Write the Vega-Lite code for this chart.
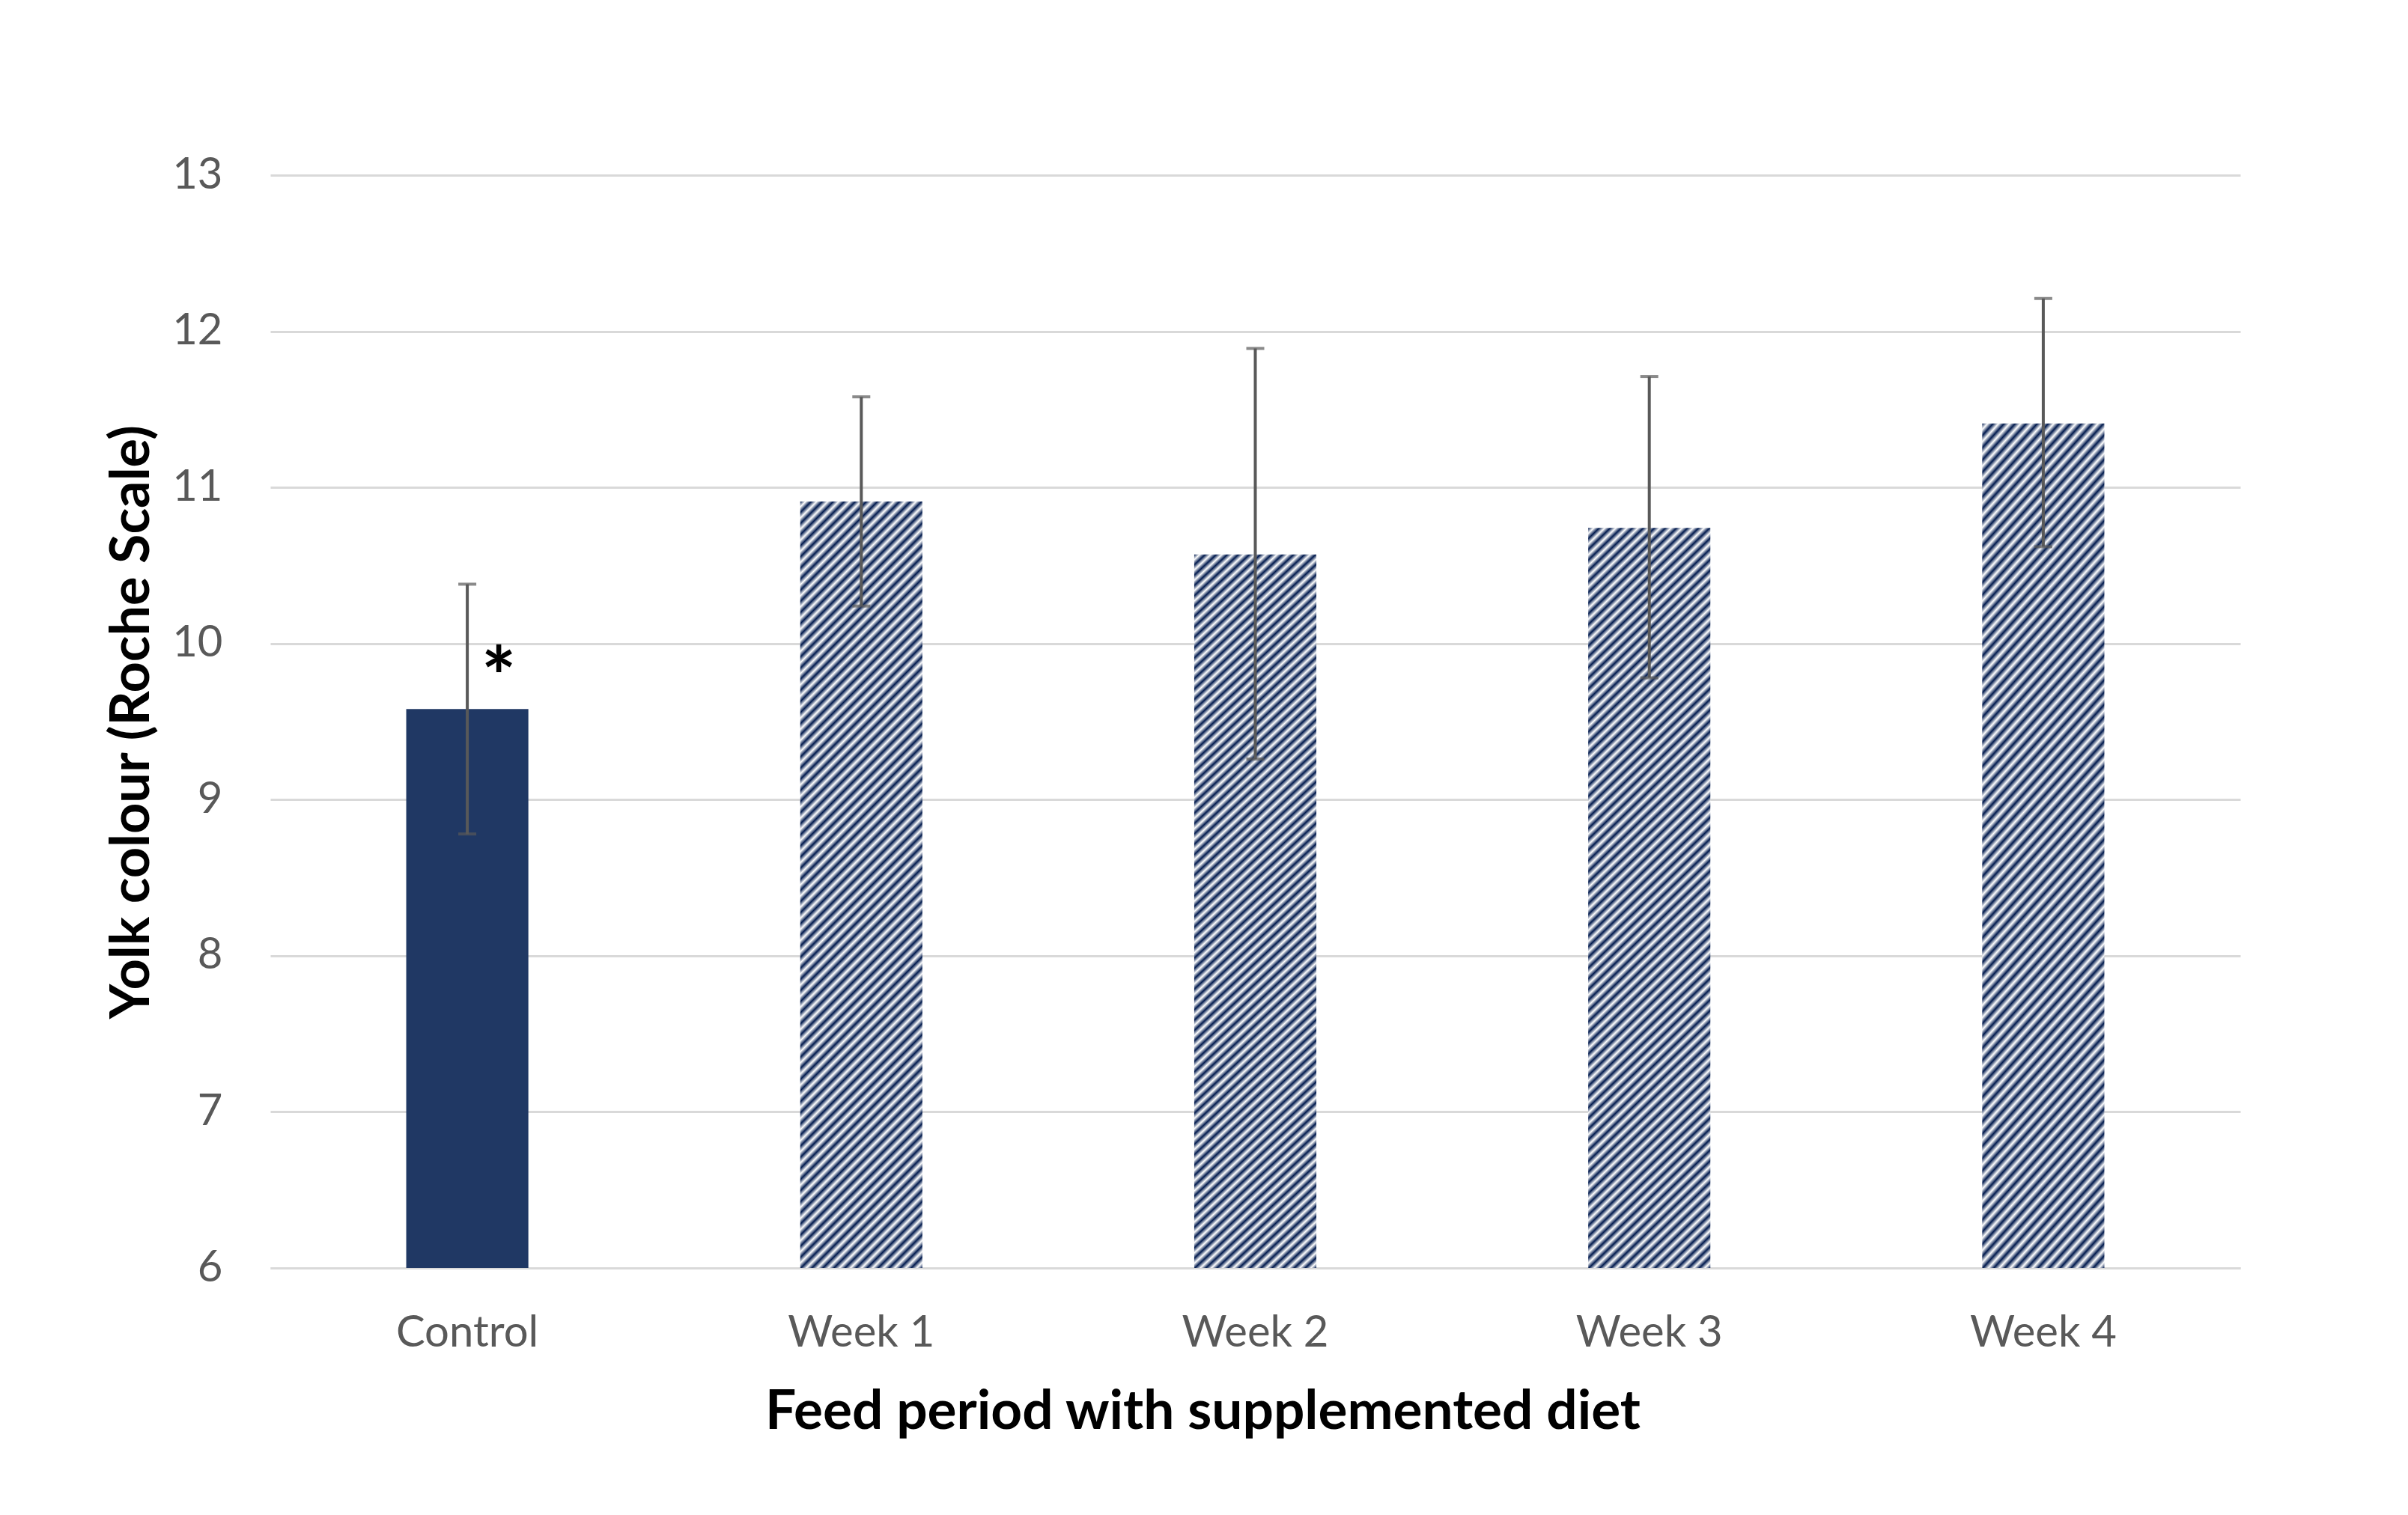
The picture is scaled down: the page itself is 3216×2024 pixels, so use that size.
{
  "$schema": "https://vega.github.io/schema/vega-lite/v6.json",
  "width": 2631,
  "height": 1460,
  "autosize": {"type": "none"},
  "padding": {"left": 361, "top": 234, "right": 224, "bottom": 330},
  "background": "white",
  "config": {"view": {"stroke": null}, "font": "Lato"},
  "data": {
    "values": [
      {"group": "Control", "mean": 9.58, "lo": 8.78, "hi": 10.38, "sig": "*"},
      {"group": "Week 1", "mean": 10.91, "lo": 10.24, "hi": 11.58, "sig": ""},
      {"group": "Week 2", "mean": 10.57, "lo": 9.26, "hi": 11.89, "sig": ""},
      {"group": "Week 3", "mean": 10.74, "lo": 9.78, "hi": 11.71, "sig": ""},
      {"group": "Week 4", "mean": 11.41, "lo": 10.62, "hi": 12.21, "sig": ""}
    ]
  },
  "encoding": {
    "x": {
      "field": "group",
      "type": "nominal",
      "sort": null,
      "scale": {"paddingInner": 0.69, "paddingOuter": 0.345},
      "title": "Feed period with supplemented diet",
      "axis": {
        "labelAngle": 0,
        "labelLimit": 0,
        "labelFont": "Lato",
        "labelFontSize": 58,
        "labelColor": "#595959",
        "labelPadding": 58,
        "ticks": false,
        "domainColor": "#d9d9d9",
        "domainWidth": 3,
        "titleFont": "Lato",
        "titleFontSize": 73,
        "titleFontWeight": "bold",
        "titleColor": "#000000",
        "titlePadding": 40,
        "titleX": 1245
      }
    }
  },
  "layer": [
    {
      "transform": [{"filter": "datum.group === 'Control'"}],
      "mark": {"type": "bar", "color": "#203864"},
      "encoding": {
        "y": {
          "field": "mean",
          "type": "quantitative",
          "scale": {"domain": [6, 13], "zero": false, "nice": false},
          "title": "Yolk colour (Roche Scale)",
          "axis": {
            "values": [6, 7, 8, 9, 10, 11, 12, 13],
            "format": "d",
            "domain": false,
            "ticks": false,
            "labelFont": "Lato",
            "labelFontSize": 58,
            "labelColor": "#595959",
            "labelPadding": 64,
            "gridColor": "#d9d9d9",
            "gridWidth": 3,
            "titleFont": "Lato",
            "titleFontSize": 72,
            "titleFontWeight": "bold",
            "titleColor": "#000000",
            "titlePadding": 16
          }
        },
        "y2": {"datum": 6}
      }
    },
    {
      "transform": [{"filter": "datum.group !== 'Control'"}],
      "mark": {
        "type": "bar",
        "color": {
          "gradient": "linear",
          "x1": 0, "y1": 0, "x2": 0.1815, "y2": 1.1313,
          "stops": [
            {"offset": 0, "color": "#00194d"}, {"offset": 0.00625, "color": "#ffffff"}, {"offset": 0.0125, "color": "#00194d"}, {"offset": 0.01875, "color": "#ffffff"}, {"offset": 0.025, "color": "#00194d"}, {"offset": 0.03125, "color": "#ffffff"}, {"offset": 0.0375, "color": "#00194d"}, {"offset": 0.04375, "color": "#ffffff"},
            {"offset": 0.05, "color": "#00194d"}, {"offset": 0.05625, "color": "#ffffff"}, {"offset": 0.0625, "color": "#00194d"}, {"offset": 0.06875, "color": "#ffffff"}, {"offset": 0.075, "color": "#00194d"}, {"offset": 0.08125, "color": "#ffffff"}, {"offset": 0.0875, "color": "#00194d"}, {"offset": 0.09375, "color": "#ffffff"},
            {"offset": 0.1, "color": "#00194d"}, {"offset": 0.10625, "color": "#ffffff"}, {"offset": 0.1125, "color": "#00194d"}, {"offset": 0.11875, "color": "#ffffff"}, {"offset": 0.125, "color": "#00194d"}, {"offset": 0.13125, "color": "#ffffff"}, {"offset": 0.1375, "color": "#00194d"}, {"offset": 0.14375, "color": "#ffffff"},
            {"offset": 0.15, "color": "#00194d"}, {"offset": 0.15625, "color": "#ffffff"}, {"offset": 0.1625, "color": "#00194d"}, {"offset": 0.16875, "color": "#ffffff"}, {"offset": 0.175, "color": "#00194d"}, {"offset": 0.18125, "color": "#ffffff"}, {"offset": 0.1875, "color": "#00194d"}, {"offset": 0.19375, "color": "#ffffff"},
            {"offset": 0.2, "color": "#00194d"}, {"offset": 0.20625, "color": "#ffffff"}, {"offset": 0.2125, "color": "#00194d"}, {"offset": 0.21875, "color": "#ffffff"}, {"offset": 0.225, "color": "#00194d"}, {"offset": 0.23125, "color": "#ffffff"}, {"offset": 0.2375, "color": "#00194d"}, {"offset": 0.24375, "color": "#ffffff"},
            {"offset": 0.25, "color": "#00194d"}, {"offset": 0.25625, "color": "#ffffff"}, {"offset": 0.2625, "color": "#00194d"}, {"offset": 0.26875, "color": "#ffffff"}, {"offset": 0.275, "color": "#00194d"}, {"offset": 0.28125, "color": "#ffffff"}, {"offset": 0.2875, "color": "#00194d"}, {"offset": 0.29375, "color": "#ffffff"},
            {"offset": 0.3, "color": "#00194d"}, {"offset": 0.30625, "color": "#ffffff"}, {"offset": 0.3125, "color": "#00194d"}, {"offset": 0.31875, "color": "#ffffff"}, {"offset": 0.325, "color": "#00194d"}, {"offset": 0.33125, "color": "#ffffff"}, {"offset": 0.3375, "color": "#00194d"}, {"offset": 0.34375, "color": "#ffffff"},
            {"offset": 0.35, "color": "#00194d"}, {"offset": 0.35625, "color": "#ffffff"}, {"offset": 0.3625, "color": "#00194d"}, {"offset": 0.36875, "color": "#ffffff"}, {"offset": 0.375, "color": "#00194d"}, {"offset": 0.38125, "color": "#ffffff"}, {"offset": 0.3875, "color": "#00194d"}, {"offset": 0.39375, "color": "#ffffff"},
            {"offset": 0.4, "color": "#00194d"}, {"offset": 0.40625, "color": "#ffffff"}, {"offset": 0.4125, "color": "#00194d"}, {"offset": 0.41875, "color": "#ffffff"}, {"offset": 0.425, "color": "#00194d"}, {"offset": 0.43125, "color": "#ffffff"}, {"offset": 0.4375, "color": "#00194d"}, {"offset": 0.44375, "color": "#ffffff"},
            {"offset": 0.45, "color": "#00194d"}, {"offset": 0.45625, "color": "#ffffff"}, {"offset": 0.4625, "color": "#00194d"}, {"offset": 0.46875, "color": "#ffffff"}, {"offset": 0.475, "color": "#00194d"}, {"offset": 0.48125, "color": "#ffffff"}, {"offset": 0.4875, "color": "#00194d"}, {"offset": 0.49375, "color": "#ffffff"},
            {"offset": 0.5, "color": "#00194d"}, {"offset": 0.50625, "color": "#ffffff"}, {"offset": 0.5125, "color": "#00194d"}, {"offset": 0.51875, "color": "#ffffff"}, {"offset": 0.525, "color": "#00194d"}, {"offset": 0.53125, "color": "#ffffff"}, {"offset": 0.5375, "color": "#00194d"}, {"offset": 0.54375, "color": "#ffffff"},
            {"offset": 0.55, "color": "#00194d"}, {"offset": 0.55625, "color": "#ffffff"}, {"offset": 0.5625, "color": "#00194d"}, {"offset": 0.56875, "color": "#ffffff"}, {"offset": 0.575, "color": "#00194d"}, {"offset": 0.58125, "color": "#ffffff"}, {"offset": 0.5875, "color": "#00194d"}, {"offset": 0.59375, "color": "#ffffff"},
            {"offset": 0.6, "color": "#00194d"}, {"offset": 0.60625, "color": "#ffffff"}, {"offset": 0.6125, "color": "#00194d"}, {"offset": 0.61875, "color": "#ffffff"}, {"offset": 0.625, "color": "#00194d"}, {"offset": 0.63125, "color": "#ffffff"}, {"offset": 0.6375, "color": "#00194d"}, {"offset": 0.64375, "color": "#ffffff"},
            {"offset": 0.65, "color": "#00194d"}, {"offset": 0.65625, "color": "#ffffff"}, {"offset": 0.6625, "color": "#00194d"}, {"offset": 0.66875, "color": "#ffffff"}, {"offset": 0.675, "color": "#00194d"}, {"offset": 0.68125, "color": "#ffffff"}, {"offset": 0.6875, "color": "#00194d"}, {"offset": 0.69375, "color": "#ffffff"},
            {"offset": 0.7, "color": "#00194d"}, {"offset": 0.70625, "color": "#ffffff"}, {"offset": 0.7125, "color": "#00194d"}, {"offset": 0.71875, "color": "#ffffff"}, {"offset": 0.725, "color": "#00194d"}, {"offset": 0.73125, "color": "#ffffff"}, {"offset": 0.7375, "color": "#00194d"}, {"offset": 0.74375, "color": "#ffffff"},
            {"offset": 0.75, "color": "#00194d"}, {"offset": 0.75625, "color": "#ffffff"}, {"offset": 0.7625, "color": "#00194d"}, {"offset": 0.76875, "color": "#ffffff"}, {"offset": 0.775, "color": "#00194d"}, {"offset": 0.78125, "color": "#ffffff"}, {"offset": 0.7875, "color": "#00194d"}, {"offset": 0.79375, "color": "#ffffff"},
            {"offset": 0.8, "color": "#00194d"}, {"offset": 0.80625, "color": "#ffffff"}, {"offset": 0.8125, "color": "#00194d"}, {"offset": 0.81875, "color": "#ffffff"}, {"offset": 0.825, "color": "#00194d"}, {"offset": 0.83125, "color": "#ffffff"}, {"offset": 0.8375, "color": "#00194d"}, {"offset": 0.84375, "color": "#ffffff"},
            {"offset": 0.85, "color": "#00194d"}, {"offset": 0.85625, "color": "#ffffff"}, {"offset": 0.8625, "color": "#00194d"}, {"offset": 0.86875, "color": "#ffffff"}, {"offset": 0.875, "color": "#00194d"}, {"offset": 0.88125, "color": "#ffffff"}, {"offset": 0.8875, "color": "#00194d"}, {"offset": 0.89375, "color": "#ffffff"},
            {"offset": 0.9, "color": "#00194d"}, {"offset": 0.90625, "color": "#ffffff"}, {"offset": 0.9125, "color": "#00194d"}, {"offset": 0.91875, "color": "#ffffff"}, {"offset": 0.925, "color": "#00194d"}, {"offset": 0.93125, "color": "#ffffff"}, {"offset": 0.9375, "color": "#00194d"}, {"offset": 0.94375, "color": "#ffffff"},
            {"offset": 0.95, "color": "#00194d"}, {"offset": 0.95625, "color": "#ffffff"}, {"offset": 0.9625, "color": "#00194d"}, {"offset": 0.96875, "color": "#ffffff"}, {"offset": 0.975, "color": "#00194d"}, {"offset": 0.98125, "color": "#ffffff"}, {"offset": 0.9875, "color": "#00194d"}, {"offset": 0.99375, "color": "#ffffff"},
            {"offset": 1, "color": "#00194d"}
          ]
        }
      },
      "encoding": {
        "y": {"field": "mean", "type": "quantitative"},
        "y2": {"datum": 6}
      }
    },
    {
      "mark": {"type": "rule", "color": "#595959", "strokeWidth": 4},
      "encoding": {
        "y": {"field": "lo", "type": "quantitative"},
        "y2": {"field": "hi"}
      }
    },
    {
      "mark": {"type": "tick", "color": "#595959", "size": 24, "thickness": 4},
      "encoding": {
        "y": {"field": "lo", "type": "quantitative"}
      }
    },
    {
      "mark": {"type": "tick", "color": "#595959", "size": 24, "thickness": 4},
      "encoding": {
        "y": {"field": "hi", "type": "quantitative"}
      }
    },
    {
      "transform": [{"filter": "datum.group === 'Control'"}],
      "mark": {"type": "text", "font": "Lato", "fontWeight": "bold", "fontSize": 110, "dx": 42, "dy": -3, "baseline": "alphabetic", "align": "center", "color": "#000000"},
      "encoding": {
        "y": {"field": "mean", "type": "quantitative"},
        "text": {"field": "sig"}
      }
    }
  ]
}
